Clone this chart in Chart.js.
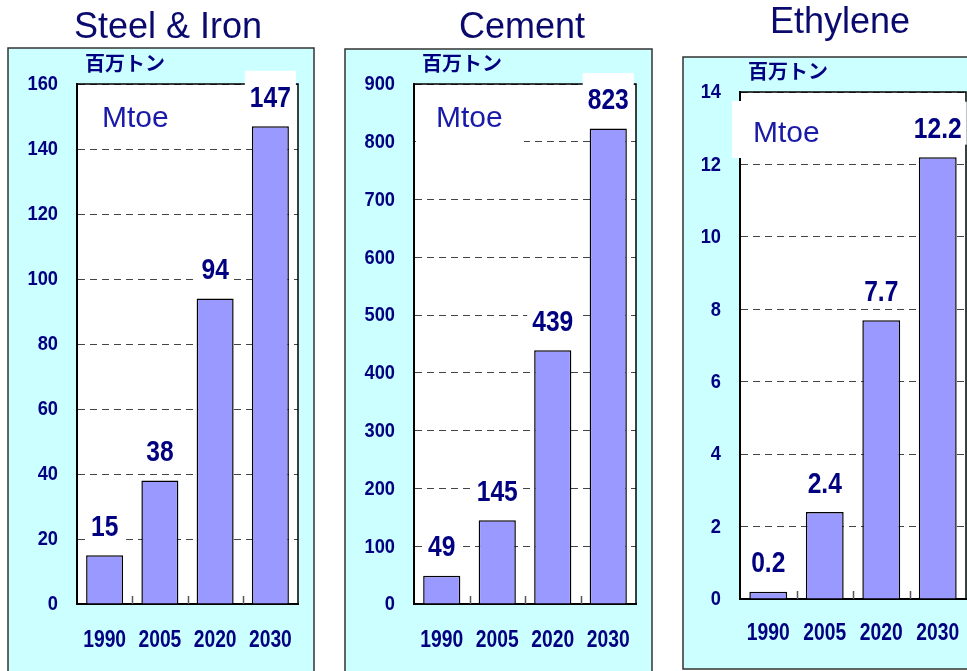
<!DOCTYPE html>
<html><head><meta charset="utf-8">
<script src="https://cdn.jsdelivr.net/npm/chart.js@4.4.0/dist/chart.umd.min.js"></script>
<style>
html,body{margin:0;padding:0;background:#fff;width:967px;height:671px;overflow:hidden}
canvas{position:absolute;left:0;top:0}
</style></head><body>
<canvas id="c1" width="967" height="671"></canvas>
<canvas id="c2" width="967" height="671"></canvas>
<canvas id="c3" width="967" height="671"></canvas>
<script>
// ---- data ----
const categories = ['1990', '2005', '2020', '2030'];
const steelValues = [15, 38, 94, 147];
const steelLabels = ['15', '38', '94', '147'];
const cementValues = [49, 145, 439, 823];
const cementLabels = ['49', '145', '439', '823'];
const ethyleneValues = [0.2, 2.4, 7.7, 12.2];
const ethyleneLabels = ['0.2', '2.4', '7.7', '12.2'];
const titles = ['Steel & Iron', 'Cement', 'Ethylene'];
const unitLabel = '百万トン';
const mtoeLabel = 'Mtoe';
const steelAxis = {max: 160, step: 20};
const cementAxis = {max: 900, step: 100};
const ethyleneAxis = {max: 14, step: 2};

const NAVY = '#000080';
const ARIAL = "'Liberation Sans',Arial,sans-serif";
const W = 967, H = 671, WY = 70, HX = 60;

function narrowText(ctx, text, x, y, align, sx) {
  ctx.save();
  ctx.translate(x, y);
  ctx.scale(sx, 1);
  ctx.textAlign = align;
  ctx.fillText(text, 0, 0);
  ctx.restore();
}

function makeChart(id, values, labels, axis, title, L) {
  const deco = {
    id: 'deco' + id,
    beforeDraw(chart) {
      const ctx = chart.ctx, a = chart.chartArea;
      ctx.save();
      ctx.fillStyle = '#CCFFFF';
      ctx.fillRect(L.bx, L.by, L.bw, L.bh);
      ctx.strokeStyle = '#333';
      ctx.lineWidth = 1.5;
      ctx.strokeRect(L.bx, L.by, L.bw, L.bh);
      ctx.fillStyle = '#fff';
      ctx.fillRect(a.left, a.top, a.right - a.left, a.bottom - a.top);
      ctx.fillStyle = '#0A0A6E';
      ctx.font = '36px ' + ARIAL;
      ctx.textAlign = 'center';
      ctx.textBaseline = 'alphabetic';
      ctx.fillText(title, L.tx, L.ty);
      ctx.fillStyle = NAVY;
      ctx.font = "bold 20px 'Noto Sans CJK JP',sans-serif";
      ctx.textAlign = 'left';
      ctx.fillText(unitLabel, L.ux, L.uy);
      ctx.restore();
    },
    afterDatasetsDraw(chart) {
      const ctx = chart.ctx, a = chart.chartArea;
      const xs = chart.scales.x, ys = chart.scales.y;
      ctx.save();
      // top & right frame
      ctx.strokeStyle = '#000';
      ctx.lineWidth = 1.5;
      ctx.beginPath();
      ctx.moveTo(a.left, a.top); ctx.lineTo(a.right, a.top); ctx.lineTo(a.right, a.bottom);
      ctx.stroke();
      // inner category ticks
      ctx.strokeStyle = '#555';
      ctx.lineWidth = 1.5;
      for (let i = 0; i < categories.length - 1; i++) {
        const xb = Math.round((xs.getPixelForValue(i) + xs.getPixelForValue(i + 1)) / 2) + 0.5;
        ctx.beginPath(); ctx.moveTo(xb, a.bottom); ctx.lineTo(xb, a.bottom - 8); ctx.stroke();
      }
      // tick labels (narrow face)
      ctx.fillStyle = NAVY;
      ctx.font = 'bold 21px ' + ARIAL;
      ctx.textBaseline = 'middle';
      ys.ticks.forEach((t, i) => {
        narrowText(ctx, String(t.value), a.left - 19, ys.getPixelForTick(i) + 0.5, 'right', 0.87);
      });
      ctx.font = 'bold 23.5px ' + ARIAL;
      ctx.textBaseline = 'alphabetic';
      xs.ticks.forEach((t, i) => {
        narrowText(ctx, xs.getLabelForValue(t.value), xs.getPixelForTick(i), a.bottom + L.xoff, 'center', 0.82);
      });
      // Mtoe
      if (L.mbw > 0) {
        ctx.fillStyle = '#fff';
        ctx.fillRect(L.mbx, L.mby, L.mbw, L.mbh);
      }
      ctx.fillStyle = '#1A1AA8';
      ctx.font = '30px ' + ARIAL;
      ctx.textAlign = 'left';
      ctx.fillText(mtoeLabel, L.mx, L.my);
      // data labels
      const meta = chart.getDatasetMeta(0);
      ctx.font = 'bold 30px ' + ARIAL;
      meta.data.forEach((bar, i) => {
        const base = bar.y - 19.5;
        const tw = ctx.measureText(labels[i]).width * 0.82;
        ctx.fillStyle = '#fff';
        ctx.fillRect(bar.x - tw / 2 - 5, base - 36, tw + 10, 43);
        ctx.fillStyle = NAVY;
        narrowText(ctx, labels[i], bar.x, base, 'center', 0.82);
      });
      ctx.restore();
    }
  };
  return new Chart(document.getElementById(id), {
    type: 'bar',
    data: {
      labels: categories,
      datasets: [{
        data: values,
        backgroundColor: '#9999FF',
        borderColor: '#000',
        borderWidth: 1.5,
        barPercentage: 0.67,
        categoryPercentage: 1.0
      }]
    },
    options: {
      responsive: false,
      animation: false,
      devicePixelRatio: 1,
      events: [],
      layout: {padding: {left: L.left - WY, right: W - L.right, top: L.top, bottom: H - L.bottom - HX}},
      plugins: {legend: {display: false}, tooltip: {enabled: false}, title: {display: false}},
      scales: {
        x: {
          afterFit(s) { s.height = HX; },
          grid: {display: false, drawTicks: false},
          border: {display: true, color: '#000', width: 2},
          ticks: {display: false}
        },
        y: {
          min: 0, max: axis.max,
          afterFit(s) { s.width = WY; },
          grid: {color: '#444', lineWidth: 1, drawTicks: false},
          border: {display: true, color: '#000', width: 2, dash: [7, 5]},
          ticks: {display: false, stepSize: axis.step}
        }
      }
    },
    plugins: [deco]
  });
}

makeChart('c1', steelValues, steelLabels, steelAxis, titles[0], {
  left: 77, top: 84, right: 298, bottom: 604, xoff: 43,
  bx: 8, by: 48, bw: 306, bh: 640, tx: 168, ty: 38, ux: 85, uy: 71,
  mx: 102, my: 127, mbx: 0, mby: 0, mbw: 0, mbh: 0
});
makeChart('c2', cementValues, cementLabels, cementAxis, titles[1], {
  left: 414, top: 84, right: 636, bottom: 604, xoff: 43,
  bx: 345, by: 49, bw: 307, bh: 640, tx: 522, ty: 38, ux: 422, uy: 71,
  mx: 436, my: 127, mbx: 416, mby: 95, mbw: 108, mbh: 50
});
makeChart('c3', ethyleneValues, ethyleneLabels, ethyleneAxis, titles[2], {
  left: 740, top: 92, right: 966, bottom: 599, xoff: 41,
  bx: 683, by: 57, bw: 320, bh: 612, tx: 840, ty: 33, ux: 748, uy: 79,
  mx: 753, my: 142, mbx: 732, mby: 101, mbw: 104, mbh: 57
});
</script>
</body></html>
